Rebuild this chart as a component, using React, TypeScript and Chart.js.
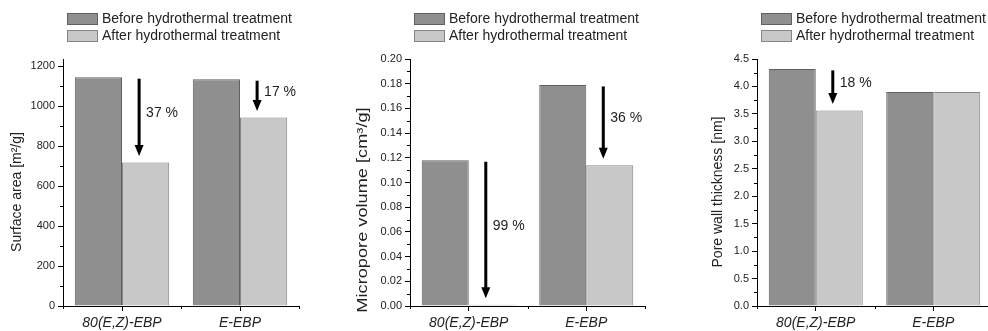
import React, { useEffect, useRef } from 'react';
import { Chart, registerables } from 'chart.js';

Chart.register(...registerables);

// ---------- data ----------
const categories = ['80(E,Z)-EBP', 'E-EBP'];
const seriesLabels = ['Before hydrothermal treatment', 'After hydrothermal treatment'];

const surfaceBefore = [1144, 1134];
const surfaceAfter = [718, 942];
const surfaceDrops = ['37 %', '17 %'];
const surfaceTicks = [0, 200, 400, 600, 800, 1000, 1200];

const microBefore = [0.118, 0.179];
const microAfter = [0.001, 0.114];
const microDrops = ['99 %', '36 %'];
const microTicks = [0, 0.02, 0.04, 0.06, 0.08, 0.1, 0.12, 0.14, 0.16, 0.18, 0.2];

const wallBefore = [4.32, 3.9];
const wallAfter = [3.56, 3.9];
const wallDrops = ['18 %', null];
const wallTicks = [0, 0.5, 1, 1.5, 2, 2.5, 3, 3.5, 4, 4.5];

// ---------- styles ----------
const FONT = '"Liberation Sans", Arial, sans-serif';
const DARK = '#8f8f8f';
const DARK_BORDER = '#606060';
const LIGHT = '#c8c8c8';
const LIGHT_BORDER = '#858585';
const TEXT = '#222222';

type Panel = {
  title: string;
  before: number[];
  after: number[];
  drops: (string | null)[];
  ticks: number[];
  max: number;
  decimals: number;
  left: number;
  width: number;
  axisWidth: number;
  rightPad: number;
  titleX: number;
  titleY: number;
  titleStretch: number;
};

const panels: Panel[] = [
  {
    title: 'Surface area [m²/g]',
    before: surfaceBefore, after: surfaceAfter, drops: surfaceDrops, ticks: surfaceTicks,
    max: 1235, decimals: 0,
    left: 0, width: 330, axisWidth: 63, rightPad: 31, titleX: 17, titleY: 192, titleStretch: 1,
  },
  {
    title: 'Micropore volume [cm³/g]',
    before: microBefore, after: microAfter, drops: microDrops, ticks: microTicks,
    max: 0.2, decimals: 2,
    left: 330, width: 330, axisWidth: 80, rightPad: 15, titleX: 33, titleY: 210, titleStretch: 1.3,
  },
  {
    title: 'Pore wall thickness [nm]',
    before: wallBefore, after: wallAfter, drops: wallDrops, ticks: wallTicks,
    max: 4.5, decimals: 1,
    left: 660, width: 340, axisWidth: 97, rightPad: 8, titleX: 58, titleY: 192, titleStretch: 1,
  },
];

const HEIGHT = 331;
const PLOT_TOP = 59;
const X_AXIS_H = 25;

function makePlugin(p: Panel) {
  return {
    id: 'decor',
    afterDraw(chart: any) {
      const ctx: CanvasRenderingContext2D = chart.ctx;
      const xs = chart.scales.x;
      const ys = chart.scales.y;
      const area = chart.chartArea;
      ctx.save();

      // minor ticks on y
      ctx.strokeStyle = '#000';
      ctx.lineWidth = 1;
      const tv = ys.ticks.map((t: any) => t.value);
      ctx.beginPath();
      for (let i = 0; i < tv.length - 1; i++) {
        const mid = (tv[i] + tv[i + 1]) / 2;
        const y = Math.round(ys.getPixelForValue(mid)) + 0.5;
        ctx.moveTo(area.left - 3, y);
        ctx.lineTo(area.left, y);
      }
      // minor ticks on x at category boundaries
      for (let v = -0.5; v <= categories.length - 0.5; v += 1) {
        const x = Math.round(xs.getPixelForValue(v)) + 0.5;
        ctx.moveTo(x, area.bottom);
        ctx.lineTo(x, area.bottom + 3);
      }
      ctx.stroke();

      // arrows + percentage labels
      ctx.fillStyle = '#000';
      p.drops.forEach((label, i) => {
        if (!label) return;
        const x = xs.getPixelForValue(i + 0.145);
        const y0 = ys.getPixelForValue(p.before[i]) + 1.5;
        const y1 = ys.getPixelForValue(p.after[i]) - 6.5;
        const head = 11;
        ctx.fillRect(x - 1.5, y0, 3, y1 - y0 - head + 1);
        ctx.beginPath();
        ctx.moveTo(x - 4.5, y1 - head);
        ctx.lineTo(x + 4.5, y1 - head);
        ctx.lineTo(x, y1);
        ctx.closePath();
        ctx.fill();
        ctx.fillStyle = TEXT;
        ctx.font = `14px ${FONT}`;
        ctx.textAlign = 'left';
        ctx.textBaseline = 'middle';
        ctx.fillText(label, x + 7, (y0 + y1) / 2 - 4);
        ctx.fillStyle = '#000';
      });

      // legend
      const ds = chart.data.datasets;
      const rows = [19, 36];
      ds.forEach((d: any, i: number) => {
        const sx = area.left + 4;
        const cy = rows[i];
        ctx.fillStyle = d.backgroundColor;
        ctx.fillRect(sx, cy - 6, 31, 12);
        ctx.strokeStyle = d.borderColor;
        ctx.lineWidth = 1;
        ctx.strokeRect(sx + 0.5, cy - 5.5, 30, 11);
        ctx.fillStyle = TEXT;
        ctx.font = `14px ${FONT}`;
        ctx.textAlign = 'left';
        ctx.textBaseline = 'middle';
        ctx.fillText(d.label, sx + 35, cy);
      });

      // y-axis title
      ctx.translate(p.titleX, p.titleY);
      ctx.rotate(-Math.PI / 2);
      ctx.scale(p.titleStretch, 1);
      ctx.fillStyle = TEXT;
      ctx.font = `14px ${FONT}`;
      ctx.textAlign = 'center';
      ctx.textBaseline = 'middle';
      ctx.fillText(p.title, 0, 0);
      ctx.restore();
    },
  };
}

function makeConfig(p: Panel): any {
  return {
    type: 'bar',
    data: {
      labels: categories,
      datasets: [
        { label: seriesLabels[0], data: p.before, backgroundColor: DARK, borderColor: DARK_BORDER, borderWidth: 1 },
        { label: seriesLabels[1], data: p.after, backgroundColor: LIGHT, borderColor: LIGHT_BORDER, borderWidth: 1 },
      ],
    },
    options: {
      animation: false,
      responsive: false,
      maintainAspectRatio: false,
      events: [],
      layout: { padding: { top: PLOT_TOP, right: p.rightPad, bottom: 0, left: 0 } },
      plugins: { legend: { display: false }, tooltip: { enabled: false }, title: { display: false } },
      datasets: { bar: { categoryPercentage: 0.8, barPercentage: 1 } },
      scales: {
        x: {
          type: 'category',
          offset: true,
          z: 1,
          grid: { drawOnChartArea: false, offset: false, tickLength: 5, color: '#000', lineWidth: 1 },
          border: { color: '#000', width: 1 },
          ticks: { font: { family: FONT, size: 14, style: 'italic' }, color: TEXT, padding: 4, maxRotation: 0, autoSkip: false },
          afterFit: (s: any) => { s.height = X_AXIS_H; },
        },
        y: {
          type: 'linear',
          min: 0,
          max: p.max,
          z: 1,
          grid: { drawOnChartArea: false, tickLength: 5, color: '#000', lineWidth: 1 },
          border: { color: '#000', width: 1 },
          afterBuildTicks: (s: any) => { s.ticks = p.ticks.map((v) => ({ value: v })); },
          ticks: {
            font: { family: FONT, size: 11 },
            color: TEXT,
            padding: 3,
            callback: (v: any) => Number(v).toFixed(p.decimals),
          },
          afterFit: (s: any) => { s.width = p.axisWidth; },
        },
      },
    },
    plugins: [makePlugin(p)],
  };
}

function PanelChart({ p }: { p: Panel }) {
  const ref = useRef<HTMLCanvasElement | null>(null);
  useEffect(() => {
    if (!ref.current) return;
    const chart = new Chart(ref.current, makeConfig(p));
    return () => chart.destroy();
  }, [p]);
  return (
    <canvas
      ref={ref}
      width={p.width}
      height={HEIGHT}
      style={{ position: 'absolute', left: p.left, top: 0, width: p.width, height: HEIGHT }}
    />
  );
}

export default function App() {
  return (
    <div style={{ position: 'fixed', left: 0, top: 0, width: 988, height: HEIGHT, overflow: 'hidden', background: '#fff' }}>
      {panels.map((p, i) => (
        <PanelChart key={i} p={p} />
      ))}
    </div>
  );
}
